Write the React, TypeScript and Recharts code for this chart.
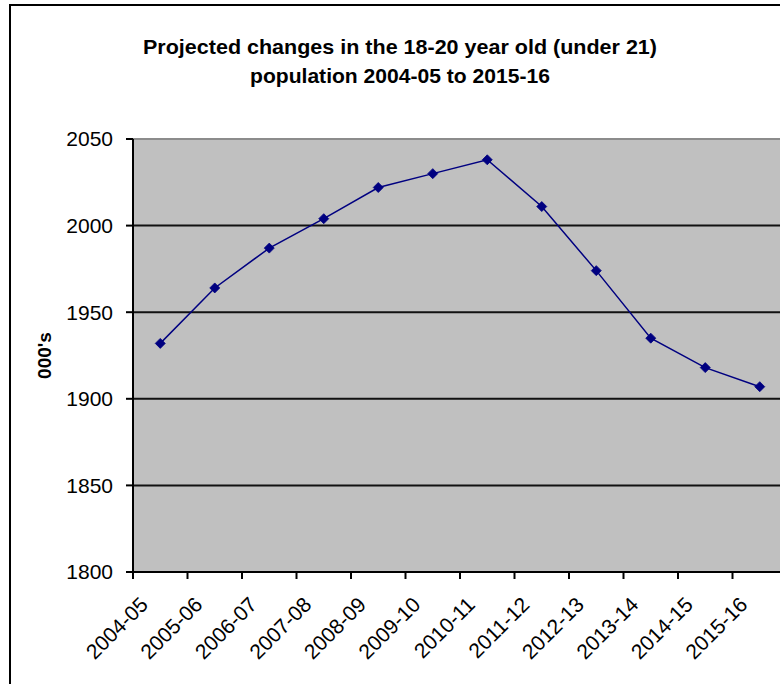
import React from 'react';
import { LineChart, Line, XAxis, YAxis, CartesianGrid, ReferenceLine } from 'recharts';

// Academic years on the category axis
const years = [
  '2004-05', '2005-06', '2006-07', '2007-08', '2008-09', '2009-10',
  '2010-11', '2011-12', '2012-13', '2013-14', '2014-15', '2015-16',
];

// Projected 18-20 year old population, thousands
const population = [1932, 1964, 1987, 2004, 2022, 2030, 2038, 2011, 1974, 1935, 1918, 1907];

const yTicks = [1800, 1850, 1900, 1950, 2000, 2050];
const gridValues = [1850, 1900, 1950, 2000];

const titleLines = [
  'Projected changes in the 18-20 year old (under 21)',
  'population 2004-05 to 2015-16',
];
const yAxisTitle = "000's";

const chartData = years.map((year, i) => ({ year, population: population[i] }));

const FONT = '"Liberation Sans", Arial, sans-serif';
const LINE_COLOR = '#000080';
const PLOT_WIDTH = 654;
const BAND = PLOT_WIDTH / years.length;

const Diamond = (props: any) => {
  const { cx, cy } = props;
  if (cx == null || cy == null) return null;
  const r = 5;
  return (
    <path
      d={`M${cx},${cy - r} L${cx + r},${cy} L${cx},${cy + r} L${cx - r},${cy} Z`}
      fill={LINE_COLOR}
      stroke={LINE_COLOR}
      strokeWidth={0.8}
    />
  );
};

const YearTick = (props: any) => {
  const { x, y, payload, index } = props;
  const left = -BAND / 2;
  return (
    <g transform={`translate(${x},${y})`}>
      <line x1={left} y1={0} x2={left} y2={7} stroke="#000" strokeWidth={2} />
      {index === years.length - 1 && (
        <line x1={-left} y1={0} x2={-left} y2={7} stroke="#000" strokeWidth={2} />
      )}
      <text
        x={0}
        y={0}
        transform="translate(-11,34) rotate(-45)"
        textAnchor="end"
        fontFamily={FONT}
        fontSize={21}
        fill="#000"
      >
        {payload.value}
      </text>
    </g>
  );
};

export default function App() {
  return (
    <div
      style={{
        position: 'absolute',
        left: 0,
        top: 0,
        width: 780,
        height: 684,
        overflow: 'hidden',
        background: '#fff',
      }}
    >
      <div
        style={{
          position: 'absolute',
          left: 9,
          top: 4,
          width: 820,
          height: 720,
          border: '2px solid #000',
          boxSizing: 'border-box',
        }}
      />
      <svg
        width={800}
        height={100}
        style={{ position: 'absolute', left: 0, top: 0 }}
      >
        <text
          x={400}
          y={54}
          textAnchor="middle"
          fontFamily={FONT}
          fontWeight="bold"
          fontSize={20.5}
          textLength={514}
          lengthAdjust="spacingAndGlyphs"
          fill="#000"
        >
          {titleLines[0]}
        </text>
        <text
          x={400}
          y={83}
          textAnchor="middle"
          fontFamily={FONT}
          fontWeight="bold"
          fontSize={20.5}
          textLength={300}
          lengthAdjust="spacingAndGlyphs"
          fill="#000"
        >
          {titleLines[1]}
        </text>
      </svg>
      <svg
        width={100}
        height={700}
        style={{ position: 'absolute', left: 0, top: 0 }}
      >
        <text
          x={0}
          y={0}
          transform="translate(51,355.5) rotate(-90)"
          textAnchor="middle"
          fontFamily={FONT}
          fontWeight="bold"
          fontSize={19}
          fill="#000"
        >
          {yAxisTitle}
        </text>
      </svg>
      <div style={{ position: 'absolute', left: 0, top: 0 }}>
        <LineChart
          width={800}
          height={700}
          data={chartData}
          margin={{ top: 139, right: 13, bottom: 28, left: 0 }}
        >
          <CartesianGrid
            horizontal
            vertical={false}
            fill="#c0c0c0"
            stroke="#111"
            strokeWidth={2}
            horizontalValues={gridValues}
          />
          <ReferenceLine y={2050} stroke="#8c8c8c" strokeWidth={2} />
          <XAxis
            dataKey="year"
            scale="band"
            interval={0}
            height={100}
            tickLine={false}
            tickSize={0}
            tickMargin={0}
            axisLine={{ stroke: '#000', strokeWidth: 2 }}
            tick={<YearTick />}
          />
          <YAxis
            domain={[1800, 2050]}
            ticks={yTicks}
            width={133}
            tickSize={7}
            tickMargin={13}
            axisLine={{ stroke: '#000', strokeWidth: 2 }}
            tickLine={{ stroke: '#000', strokeWidth: 2 }}
            tick={{ fill: '#000', fontSize: 21, fontFamily: FONT }}
          />
          <Line
            dataKey="population"
            stroke={LINE_COLOR}
            strokeWidth={1.5}
            dot={<Diamond />}
            activeDot={false}
            isAnimationActive={false}
          />
        </LineChart>
      </div>
    </div>
  );
}
